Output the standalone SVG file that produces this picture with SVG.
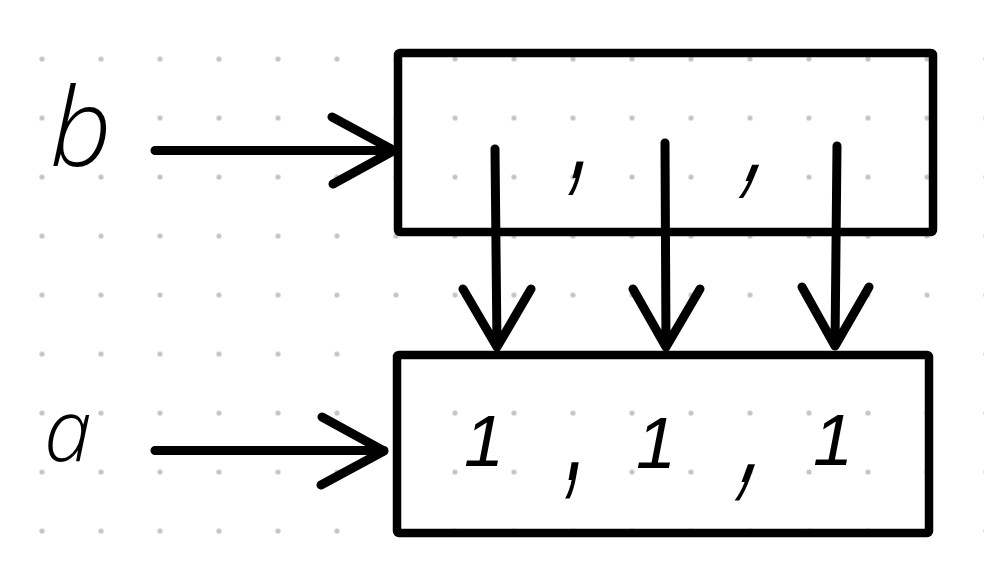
<svg xmlns="http://www.w3.org/2000/svg" width="984" height="585" viewBox="0 0 984 585">
<defs>
<pattern id="dots" x="12.5" y="29.5" width="59" height="59" patternUnits="userSpaceOnUse">
<circle cx="29.5" cy="29.5" r="2.6" fill="#c4c4c4"/>
</pattern>
</defs>
<style>
.box{fill:none;stroke:#000;stroke-width:8.5;stroke-linejoin:round}
.ln{fill:none;stroke:#000;stroke-width:9;stroke-linecap:round;stroke-linejoin:round}
.lbl{font-family:"Open Sans","Liberation Sans",sans-serif;font-weight:300;font-style:italic;fill:#000}
.dig{font-family:"Liberation Sans",sans-serif;font-style:italic;fill:#000}
.cm{font-family:"Liberation Sans",sans-serif;font-weight:bold;fill:#000}
</style>
<rect width="984" height="585" fill="#fff"/>
<rect x="0" y="30" width="984" height="530" fill="url(#dots)"/>
<g id="node-b-box">
<rect class="box" x="398" y="53" width="535" height="179" rx="2"/>
<text class="cm" font-size="50" text-anchor="middle" transform="translate(576,178) skewX(-14) scale(1,2.2)">,</text>
<text class="cm" font-size="50" text-anchor="middle" transform="translate(749,181) skewX(-22) scale(1,2.2)">,</text>
</g>
<g id="node-a-box">
<rect class="box" x="397" y="355" width="532" height="178" rx="2"/>
<text class="dig" font-size="72" text-anchor="middle" x="484" y="466">1</text>
<text class="dig" font-size="72" text-anchor="middle" x="656" y="468">1</text>
<text class="dig" font-size="72" text-anchor="middle" x="833" y="465">1</text>
<text class="cm" font-size="50" text-anchor="middle" transform="translate(572,480) skewX(-10) scale(1,2.4)">,</text>
<text class="cm" font-size="50" text-anchor="middle" transform="translate(745,482) skewX(-20) scale(1,2.4)">,</text>
</g>
<g id="label-b">
<text class="lbl" font-size="108" x="50" y="166">b</text>
</g>
<g id="label-a">
<text class="lbl" font-size="86" x="44" y="461">a</text>
</g>
<g id="connectors">
<path class="ln" d="M155,150.5 H393 M332,117 L394,150.5 L333,184"/>
<path class="ln" d="M155,450.5 H384 M322,417 L384,451 L321,485"/>
<path class="ln" d="M495,149 L497,347 M463,289 L497,347 L531,289"/>
<path class="ln" d="M665,143 L666,347 M633,289 L666,347 L700,289"/>
<path class="ln" d="M837,146 L835,346 M802,287 L835,346 L869,287"/>
</g>
</svg>
